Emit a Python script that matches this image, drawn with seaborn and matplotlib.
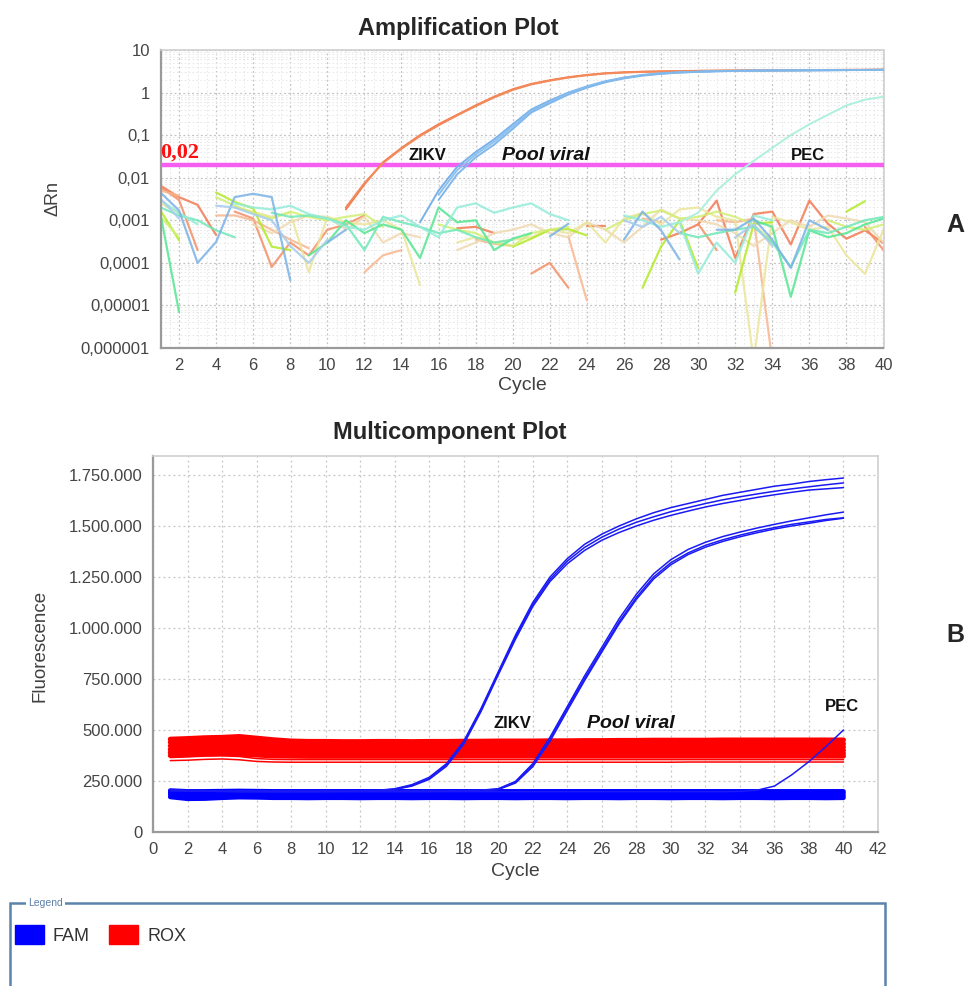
import numpy as np
import pandas as pd
import matplotlib
matplotlib.use('Agg')
import matplotlib.pyplot as plt
from matplotlib.patches import Patch, Rectangle
from matplotlib.ticker import MultipleLocator, LogLocator, NullFormatter
import seaborn as sns

nan = np.nan

# =============================================================================
# DATA - Amplification plot (delta Rn, log scale), cycles 1..40
# =============================================================================
zikv_drn_1 = [1.8e-3, 7e-3, 2.3e-2, 5e-2, 1e-1, 1.8e-1, 3e-1, 5e-1, 8e-1, 1.2,
              1.6, 1.95, 2.3, 2.6, 2.85, 3.0, 3.1, 3.15, 3.2, 3.25,
              3.28, 3.3, 3.32, 3.34, 3.36, 3.38, 3.4, 3.42, 3.43, 3.45]      # from cycle 11
zikv_drn_2 = [2e-3, 7.5e-3, 2.2e-2, 4.8e-2, 9.5e-2, 1.7e-1, 2.9e-1, 4.8e-1, 7.7e-1, 1.15,
              1.55, 1.9, 2.25, 2.55, 2.8, 2.95, 3.05, 3.12, 3.18, 3.22,
              3.26, 3.28, 3.3, 3.32, 3.34, 3.36, 3.38, 3.4, 3.42, 3.44]      # from cycle 11
pool_drn_1 = [9e-4, 5e-3, 1.8e-2, 4e-2, 8e-2, 1.8e-1, 4e-1, 6.5e-1, 1.0, 1.4,
              1.85, 2.25, 2.6, 2.85, 3.0, 3.1, 3.2, 3.25, 3.28, 3.3,
              3.32, 3.34, 3.36, 3.38, 3.4, 3.42]                              # from cycle 15
pool_drn_2 = [4e-3, 1.5e-2, 3.5e-2, 7e-2, 1.6e-1, 3.7e-1, 6e-1, 9.5e-1, 1.35, 1.8,
              2.2, 2.55, 2.8, 2.97, 3.08, 3.18, 3.23, 3.27, 3.3, 3.32,
              3.34, 3.36, 3.38, 3.4, 3.42]                                    # from cycle 16
pool_drn_3 = [3e-3, 1.2e-2, 3e-2, 6e-2, 1.4e-1, 3.4e-1, 5.6e-1, 9e-1, 1.3, 1.75,
              2.15, 2.5, 2.75, 2.95, 3.06, 3.16, 3.22, 3.26, 3.29, 3.31,
              3.33, 3.35, 3.37, 3.39, 3.41]                                   # from cycle 16
pec_drn = [9e-4, 1.5e-3, 5e-3, 1.2e-2, 2.5e-2, 5e-2, 1e-1, 1.8e-1, 3e-1, 5e-1,
           6.8e-1, 8e-1]                                                     # from cycle 29

# background (non amplifying) wells, cycles 1..40, nan = negative / not drawn
noise_orange_a = [6.5e-3, 3.5e-3, 2.3e-3, 4.5e-4, nan, nan, nan, nan, nan, nan,
                  nan, nan, nan, nan, nan, nan, 6.5e-4, 7e-4, 5e-4, nan,
                  nan, nan, nan, 7.5e-4, 7.5e-4, nan, nan, 3.5e-4, 5e-4, 8e-4,
                  2.9e-3, 1.3e-4, 1.4e-3, 1.6e-3, 2.7e-4, 2.9e-3, 8.3e-4, 3.7e-4, 5.8e-4, 2.9e-4]
noise_orange_b = [6e-3, 3e-3, 2e-4, nan, 1.6e-3, 1.1e-3, 8e-5, 3e-4, 1.5e-4, 6e-4,
                  8e-4, 1.3e-3, nan, nan, nan, nan, nan, nan, nan, nan,
                  5.6e-5, 1e-4, 2.6e-5, nan, nan, nan, nan, nan, nan, 8.3e-4,
                  2e-4, nan, nan, nan, nan, nan, nan, nan, 7e-4, 2e-4]
noise_lorange = [5e-3, 3.8e-3, nan, 1.3e-3, 1.3e-3, 1e-3, 6e-4, 3.5e-4, 2.2e-4, nan,
                 nan, 6e-5, 1.5e-4, 2e-4, nan, nan, nan, 3.5e-4, 2.8e-4, 2.5e-4,
                 nan, nan, 4.2e-4, 1.3e-5, nan, nan, 1.1e-3, 9e-4, nan, nan,
                 1e-3, 9e-4, 1.1e-3, 5e-7, nan, nan, nan, nan, nan, 5e-4]
noise_pale = [nan, nan, nan, nan, nan, 8e-4, 5e-4, 9e-4, 1.3e-3, 1.2e-3,
              6e-4, 1.2e-3, 3e-4, 5e-4, 4e-4, nan, 2e-4, 3e-4, 5e-4, 6e-4,
              8e-4, 5e-4, 4e-4, 9e-4, 6e-4, 3e-4, 7e-4, 1.8e-3, 1.1e-3, 1e-3,
              8e-4, 5e-4, 2.5e-4, 5e-4, 1e-3, 7e-4, 1.3e-3, 1.1e-3, 9e-4, 3e-4]
noise_yellow = [2.5e-3, 1.5e-3, nan, nan, 2e-3, 1.6e-3, 1.2e-3, 1.5e-3, 6e-5, 1.2e-3,
                9e-4, 8e-4, 1e-3, 6e-4, 3e-5, nan, 3e-4, 4e-4, 3e-4, 3.5e-4,
                4e-4, 6e-4, 5e-4, 9e-4, 3e-4, 1.1e-3, 1.5e-3, 8e-4, 1.8e-3, 2e-3,
                1.2e-3, 1e-3, 5e-7, 1.2e-3, 9e-4, 6e-4, 7e-4, 1.5e-4, 5.5e-5, 6e-4]
noise_lime = [1.7e-3, 3.4e-4, nan, 4.5e-3, 2.7e-3, 1.9e-3, 2.4e-4, 2e-4, nan, nan,
              nan, nan, nan, nan, nan, nan, nan, nan, nan, 2.4e-4,
              3.7e-4, 6e-4, 6.2e-4, 4.4e-4, nan, nan, 2.6e-5, 2.4e-4, 1e-3, 7.6e-5,
              nan, 2e-5, 8.3e-4, 9e-4, nan, nan, nan, 1.6e-3, 2.8e-3, nan]
noise_yg = [1.2e-3, 4e-4, nan, 3.5e-3, 2.2e-3, 1.5e-3, 1.1e-3, 1.6e-3, 1.2e-3, 1e-3,
            1.2e-3, 1.4e-3, 7e-4, nan, nan, 8e-4, 6e-4, 5e-4, 3e-4, 2.5e-4,
            5e-4, 6e-4, 7e-4, nan, 6e-4, 1e-3, 1.4e-3, 1.7e-3, 1.1e-3, 1.2e-3,
            1.6e-3, 1.2e-3, 8e-4, 3e-4, nan, nan, 1e-3, 7e-4, 6e-4, 8e-4]
noise_green = [1.4e-3, 7e-6, nan, nan, nan, nan, nan, nan, 1.5e-4, 3e-4,
               1e-3, 5e-4, 8e-4, 6e-4, 1.3e-4, 2e-3, 9e-4, 1e-3, 2e-4, 3.7e-4,
               5e-4, nan, nan, nan, nan, nan, nan, nan, nan, nan,
               nan, nan, 1e-3, 7e-4, 1.6e-5, 5.8e-4, 4e-4, 5e-4, 8e-4, 1.1e-3]
noise_teal = [2e-3, 1.3e-3, 1e-3, 5.8e-4, 4e-4, nan, 1.5e-3, 1.2e-3, 1.3e-3, 1.1e-3,
              8e-4, 2e-4, 1.2e-3, 9e-4, 7e-4, 5e-4, 6e-4, 4e-4, 3e-4, 3.5e-4,
              nan, nan, nan, nan, nan, nan, nan, nan, 5e-4, 4e-4,
              5e-4, 6e-4, 7e-4, 3e-4, 8e-5, 6e-4, 5e-4, 7e-4, 1e-3, 1.2e-3]
noise_cyan = [3e-3, 1.5e-3, 8e-4, nan, 2.5e-3, 2e-3, 1.8e-3, 2.2e-3, 1.4e-3, 1.1e-3,
              7e-4, 6e-4, 1e-3, 1.3e-3, 7e-4, 4e-4, 2e-3, 2.5e-3, 1.5e-3, 2e-3,
              2.5e-3, 1.4e-3, 1e-3, nan, nan, 1.3e-3, 1e-3, 7e-4, 9e-4, 5.6e-5,
              3e-4, 1e-4, 1.3e-3, 1e-3, nan, nan, nan, nan, nan, nan]
noise_blue = [4.5e-3, 1.7e-3, 1e-4, 3.1e-4, 3.5e-3, 4.2e-3, 3.5e-3, 3.9e-5, nan, 3e-4,
              6e-4, nan, nan, nan, nan, nan, nan, nan, nan, nan,
              nan, 4.2e-4, 8.3e-4, nan, nan, 3.5e-4, 1.6e-3, 5.8e-4, 1.2e-4, nan,
              6e-4, 6e-4, 1.1e-3, 3.5e-4, 7.6e-5, 1e-3, 6e-4, nan, nan, nan]
noise_sky = [3.2e-3, 1.1e-3, nan, 2.2e-3, 2e-3, 1.4e-3, 1e-3, 2.5e-4, 1e-4, 3.5e-4,
             nan, nan, nan, nan, nan, nan, nan, nan, nan, nan,
             nan, nan, nan, nan, nan, 1e-3, 7e-4, 1.2e-3, 5e-4, nan,
             nan, 4e-4, 8e-4, 2.5e-4, nan, nan, nan, nan, nan, 9e-4]

threshold = 0.02
amp_yticks = [1e-6, 1e-5, 1e-4, 1e-3, 1e-2, 1e-1, 1, 10]
amp_yticklabels = ['0,000001', '0,00001', '0,0001', '0,001', '0,01', '0,1', '1', '10']

# =============================================================================
# DATA - Multicomponent plot (raw fluorescence), cycles 1..40
# =============================================================================
zikv_fam_1 = [205e3, 203e3, 202e3, 201e3, 200e3, 200e3, 200e3, 200e3, 200e3, 200e3,
              201e3, 202e3, 204e3, 212e3, 232e3, 268e3, 335e3, 445e3, 605e3, 785e3,
              965e3, 1125e3, 1250e3, 1340e3, 1410e3, 1460e3, 1500e3, 1535e3, 1565e3, 1590e3,
              1610e3, 1630e3, 1650e3, 1665e3, 1680e3, 1695e3, 1705e3, 1718e3, 1727e3, 1735e3]
zikv_fam_2 = [204e3, 202e3, 201e3, 200e3, 199e3, 199e3, 199e3, 199e3, 199e3, 199e3,
              200e3, 201e3, 203e3, 210e3, 228e3, 262e3, 330e3, 438e3, 598e3, 778e3,
              955e3, 1115e3, 1238e3, 1328e3, 1395e3, 1445e3, 1485e3, 1518e3, 1545e3, 1570e3,
              1590e3, 1610e3, 1628e3, 1643e3, 1657e3, 1670e3, 1682e3, 1692e3, 1702e3, 1711e3]
zikv_fam_3 = [203e3, 201e3, 200e3, 199e3, 198e3, 198e3, 198e3, 198e3, 198e3, 198e3,
              199e3, 200e3, 202e3, 208e3, 225e3, 258e3, 322e3, 430e3, 590e3, 770e3,
              945e3, 1105e3, 1228e3, 1315e3, 1380e3, 1430e3, 1468e3, 1500e3, 1528e3, 1552e3,
              1573e3, 1593e3, 1610e3, 1625e3, 1640e3, 1653e3, 1665e3, 1676e3, 1682e3, 1688e3]
pool_fam_1 = [206e3, 204e3, 203e3, 202e3, 201e3, 201e3, 201e3, 201e3, 201e3, 201e3,
              201e3, 201e3, 201e3, 201e3, 201e3, 201e3, 202e3, 203e3, 205e3, 212e3,
              248e3, 335e3, 465e3, 615e3, 765e3, 905e3, 1045e3, 1165e3, 1265e3, 1335e3,
              1385e3, 1420e3, 1448e3, 1470e3, 1490e3, 1508e3, 1525e3, 1540e3, 1555e3, 1568e3]
pool_fam_2 = [205e3, 203e3, 202e3, 201e3, 200e3, 200e3, 200e3, 200e3, 200e3, 200e3,
              200e3, 200e3, 200e3, 200e3, 200e3, 200e3, 201e3, 202e3, 204e3, 210e3,
              245e3, 328e3, 455e3, 605e3, 752e3, 892e3, 1030e3, 1150e3, 1250e3, 1320e3,
              1368e3, 1405e3, 1432e3, 1455e3, 1475e3, 1492e3, 1508e3, 1520e3, 1532e3, 1540e3]
pool_fam_3 = [204e3, 202e3, 201e3, 200e3, 199e3, 199e3, 199e3, 199e3, 199e3, 199e3,
              199e3, 199e3, 199e3, 199e3, 199e3, 199e3, 200e3, 201e3, 203e3, 208e3,
              240e3, 320e3, 445e3, 595e3, 742e3, 882e3, 1020e3, 1140e3, 1240e3, 1310e3,
              1360e3, 1396e3, 1424e3, 1447e3, 1467e3, 1485e3, 1500e3, 1513e3, 1527e3, 1538e3]
pec_fam = [203e3, 201e3, 200e3, 199e3, 198e3, 198e3, 198e3, 198e3, 198e3, 198e3,
           198e3, 198e3, 198e3, 198e3, 198e3, 198e3, 198e3, 198e3, 198e3, 198e3,
           198e3, 198e3, 198e3, 198e3, 198e3, 198e3, 198e3, 198e3, 198e3, 198e3,
           198e3, 198e3, 198e3, 199e3, 205e3, 225e3, 280e3, 345e3, 420e3, 500e3]
fam_base_1 = [172e3, 163e3, 164e3, 168e3, 171e3, 170e3, 168e3, 168e3, 167e3, 168e3,
              168e3, 167e3, 168e3, 168e3, 167e3, 168e3, 168e3, 167e3, 168e3, 168e3,
              167e3, 168e3, 168e3, 167e3, 168e3, 168e3, 167e3, 168e3, 168e3, 167e3,
              168e3, 168e3, 167e3, 168e3, 168e3, 167e3, 168e3, 168e3, 167e3, 168e3]
fam_base_2 = [183e3, 176e3, 177e3, 179e3, 181e3, 180e3, 178e3, 178e3, 178e3, 178e3,
              178e3, 178e3, 178e3, 179e3, 178e3, 178e3, 178e3, 178e3, 179e3, 178e3,
              178e3, 178e3, 178e3, 179e3, 178e3, 178e3, 178e3, 178e3, 179e3, 178e3,
              178e3, 178e3, 178e3, 179e3, 178e3, 178e3, 178e3, 178e3, 179e3, 178e3]
fam_base_3 = [193e3, 188e3, 189e3, 190e3, 191e3, 190e3, 189e3, 189e3, 189e3, 189e3,
              189e3, 189e3, 189e3, 188e3, 189e3, 189e3, 189e3, 189e3, 188e3, 189e3,
              189e3, 189e3, 189e3, 188e3, 189e3, 189e3, 189e3, 189e3, 188e3, 189e3,
              189e3, 189e3, 189e3, 188e3, 189e3, 189e3, 189e3, 189e3, 188e3, 189e3]
fam_base_4 = [203e3, 199e3, 199e3, 200e3, 201e3, 200e3, 199e3, 199e3, 199e3, 199e3,
              199e3, 199e3, 199e3, 199e3, 199e3, 199e3, 199e3, 199e3, 199e3, 199e3,
              199e3, 199e3, 199e3, 199e3, 199e3, 199e3, 199e3, 199e3, 199e3, 199e3,
              199e3, 199e3, 199e3, 199e3, 199e3, 199e3, 199e3, 199e3, 199e3, 199e3]
rox_1 = [455e3, 458e3, 462e3, 464e3, 468e3, 460e3, 452e3, 446e3, 444e3, 444e3,
         443e3, 443e3, 444e3, 444e3, 443e3, 444e3, 444e3, 445e3, 445e3, 446e3,
         446e3, 446e3, 447e3, 447e3, 448e3, 448e3, 449e3, 449e3, 450e3, 450e3,
         450e3, 450e3, 451e3, 451e3, 451e3, 451e3, 451e3, 451e3, 451e3, 451e3]
rox_2 = [440e3, 444e3, 446e3, 448e3, 452e3, 446e3, 438e3, 432e3, 430e3, 430e3,
         430e3, 430e3, 430e3, 431e3, 430e3, 430e3, 431e3, 431e3, 431e3, 431e3,
         431e3, 432e3, 432e3, 432e3, 432e3, 432e3, 433e3, 433e3, 433e3, 433e3,
         433e3, 433e3, 433e3, 433e3, 433e3, 433e3, 433e3, 433e3, 433e3, 433e3]
rox_3 = [422e3, 428e3, 430e3, 432e3, 434e3, 428e3, 420e3, 416e3, 415e3, 415e3,
         415e3, 415e3, 415e3, 415e3, 415e3, 415e3, 416e3, 416e3, 416e3, 416e3,
         416e3, 416e3, 416e3, 416e3, 416e3, 417e3, 417e3, 417e3, 417e3, 417e3,
         417e3, 417e3, 417e3, 417e3, 417e3, 417e3, 417e3, 417e3, 417e3, 417e3]
rox_4 = [405e3, 412e3, 414e3, 415e3, 416e3, 410e3, 403e3, 400e3, 399e3, 399e3,
         399e3, 399e3, 399e3, 399e3, 399e3, 400e3, 400e3, 400e3, 400e3, 400e3,
         400e3, 400e3, 400e3, 400e3, 400e3, 400e3, 400e3, 401e3, 401e3, 401e3,
         401e3, 401e3, 401e3, 401e3, 401e3, 401e3, 401e3, 401e3, 401e3, 401e3]
rox_5 = [390e3, 396e3, 398e3, 399e3, 400e3, 393e3, 387e3, 385e3, 384e3, 384e3,
         384e3, 384e3, 384e3, 384e3, 384e3, 384e3, 385e3, 385e3, 385e3, 385e3,
         385e3, 385e3, 385e3, 385e3, 385e3, 385e3, 385e3, 385e3, 385e3, 386e3,
         386e3, 386e3, 386e3, 386e3, 386e3, 386e3, 386e3, 386e3, 386e3, 386e3]
rox_6 = [375e3, 380e3, 382e3, 383e3, 382e3, 377e3, 373e3, 372e3, 371e3, 371e3,
         371e3, 371e3, 371e3, 371e3, 371e3, 371e3, 371e3, 372e3, 372e3, 372e3,
         372e3, 372e3, 372e3, 372e3, 372e3, 372e3, 372e3, 372e3, 372e3, 372e3,
         372e3, 372e3, 372e3, 372e3, 372e3, 372e3, 372e3, 372e3, 372e3, 372e3]
rox_7 = [365e3, 368e3, 372e3, 374e3, 370e3, 360e3, 356e3, 355e3, 355e3, 355e3,
         355e3, 355e3, 355e3, 355e3, 355e3, 355e3, 355e3, 355e3, 355e3, 355e3,
         355e3, 355e3, 355e3, 355e3, 355e3, 355e3, 355e3, 355e3, 355e3, 355e3,
         355e3, 355e3, 355e3, 355e3, 355e3, 355e3, 355e3, 355e3, 355e3, 355e3]
rox_8 = [350e3, 352e3, 356e3, 358e3, 354e3, 346e3, 343e3, 342e3, 342e3, 342e3,
         342e3, 342e3, 342e3, 342e3, 342e3, 342e3, 342e3, 342e3, 342e3, 342e3,
         342e3, 342e3, 342e3, 342e3, 342e3, 342e3, 342e3, 342e3, 342e3, 342e3,
         343e3, 343e3, 343e3, 343e3, 343e3, 343e3, 343e3, 343e3, 343e3, 343e3]

mc_yticks = [0, 250e3, 500e3, 750e3, 1000e3, 1250e3, 1500e3, 1750e3]
mc_yticklabels = ['0', '250.000', '500.000', '750.000', '1.000.000', '1.250.000',
                  '1.500.000', '1.750.000']

# =============================================================================
# HELPERS
# =============================================================================
def long_form(series, starts):
    # one row per point, a new segment id after every gap (nan)
    rows = []
    for name, values in series.items():
        seg, gap = 0, True
        for i, v in enumerate(values):
            if np.isnan(v):
                gap = True
                continue
            if gap:
                seg += 1
                gap = False
            rows.append({'well': name, 'seg': f'{name}-{seg}',
                         'cycle': starts.get(name, 1) + i, 'value': v})
    return pd.DataFrame(rows)


def draw(ax, series, colors, starts=None, lw=1.5, alpha=1.0, zorder=2):
    df = long_form(series, starts or {})
    sns.lineplot(data=df, x='cycle', y='value', hue='well', units='seg',
                 estimator=None, sort=False, palette=colors, lw=lw, alpha=alpha,
                 legend=False, ax=ax, zorder=zorder)


def style_box(ax):
    for side in ['left', 'bottom']:
        ax.spines[side].set_color('#9a9a9a')
        ax.spines[side].set_linewidth(1.6)
    for side in ['top', 'right']:
        ax.spines[side].set_color('#cfcfcf')
        ax.spines[side].set_linewidth(1.2)
    ax.tick_params(axis='both', which='major', direction='out', length=4,
                   width=1.2, color='#9a9a9a', labelcolor='#454545', labelsize=12)
    ax.set_xlabel('')
    ax.set_ylabel('')


# =============================================================================
# FIGURE
# =============================================================================
sns.set_theme(style='white')
plt.rcParams['font.family'] = ['Liberation Sans', 'DejaVu Sans']

fig = plt.figure(figsize=(9.69, 9.86), dpi=100)

# ---------- A : Amplification Plot ----------
ax1 = fig.add_axes([160.5 / 969, 1 - 348 / 986, 723 / 969, 298 / 986])
ax1.set_yscale('log')

noise = {'n1': noise_orange_a, 'n2': noise_orange_b, 'n3': noise_lorange,
         'n4': noise_pale, 'n5': noise_yellow, 'n6': noise_lime, 'n7': noise_yg,
         'n8': noise_green, 'n9': noise_teal, 'n10': noise_cyan,
         'n11': noise_blue, 'n12': noise_sky}
noise_colors = {'n1': '#f27a52', 'n2': '#f39068', 'n3': '#f7b690', 'n4': '#efd9b0',
                'n5': '#ebe69c', 'n6': '#b2ea26', 'n7': '#d3ef74', 'n8': '#55e692',
                'n9': '#6ee8b8', 'n10': '#93ecd9', 'n11': '#7cb2e6', 'n12': '#a6cbee'}
draw(ax1, noise, noise_colors, lw=1.6, alpha=0.85)

ax1.axhline(threshold, color='#f55ef0', lw=3.2, zorder=3)

amp = {'zikv1': zikv_drn_1, 'zikv2': zikv_drn_2,
       'pool1': pool_drn_1, 'pool2': pool_drn_2, 'pool3': pool_drn_3, 'pec': pec_drn}
amp_starts = {'zikv1': 11, 'zikv2': 11, 'pool1': 15, 'pool2': 16, 'pool3': 16, 'pec': 29}
amp_colors = {'zikv1': '#f47a48', 'zikv2': '#f28a5c', 'pool1': '#78b2ea',
              'pool2': '#8ec0ee', 'pool3': '#80b8ec', 'pec': '#aef0de'}
draw(ax1, amp, amp_colors, starts=amp_starts, lw=1.4, zorder=4)

ax1.set_xlim(1, 40)
ax1.set_ylim(1e-6, 10)
ax1.set_xticks(range(2, 41, 2))
ax1.xaxis.set_minor_locator(MultipleLocator(0.5))
ax1.set_yticks(amp_yticks)
ax1.set_yticklabels(amp_yticklabels)
ax1.yaxis.set_minor_locator(LogLocator(base=10, subs=np.arange(2, 10)))
ax1.yaxis.set_minor_formatter(NullFormatter())
ax1.grid(which='major', ls=(0, (1.5, 2)), color='#c2c2c2', lw=0.9)
ax1.grid(which='minor', ls=(0, (1.5, 2.5)), color='#e6e6e6', lw=0.7)
style_box(ax1)
ax1.tick_params(axis='both', which='minor', length=0)

ax1.text(1.0, threshold * 1.12, '0,02', color='#ff1010', fontsize=16,
         fontweight='bold', family=['Liberation Serif', 'DejaVu Serif'],
         ha='left', va='bottom', zorder=5)
ax1.text(15.4, 0.034, 'ZIKV', fontsize=12, fontweight='bold', color='#111111',
         ha='center', va='center', zorder=5)
ax1.text(21.8, 0.034, 'Pool viral', fontsize=14, fontweight='bold', style='italic',
         color='#111111', ha='center', va='center', zorder=5)
ax1.text(35.9, 0.034, 'PEC', fontsize=12, fontweight='bold', color='#111111',
         ha='center', va='center', zorder=5)

fig.text(458 / 969, 1 - 28 / 986, 'Amplification Plot', fontsize=17,
         fontweight='bold', ha='center', va='center')
fig.text(53 / 969, 1 - 198 / 986, 'ΔRn', fontsize=13, rotation=90, color='#404040',
         ha='center', va='center')
fig.text(522 / 969, 1 - 385 / 986, 'Cycle', fontsize=14, color='#404040',
         ha='center', va='center')
fig.text(955 / 969, 1 - 225 / 986, 'A', fontsize=18, fontweight='bold',
         ha='center', va='center')

# ---------- B : Multicomponent Plot ----------
ax2 = fig.add_axes([153 / 969, 1 - 832 / 986, 725 / 969, 376 / 986])

rox = {'r1': rox_1, 'r2': rox_2, 'r3': rox_3, 'r4': rox_4, 'r5': rox_5, 'r6': rox_6}
draw(ax2, rox, {k: '#ff0000' for k in rox}, lw=3.6, zorder=2)
draw(ax2, {'r7': rox_7, 'r8': rox_8}, {'r7': '#ff0000', 'r8': '#ff0000'},
     lw=1.1, zorder=2)

fam_base = {'f1': fam_base_1, 'f2': fam_base_2, 'f3': fam_base_3, 'f4': fam_base_4}
draw(ax2, fam_base, {k: '#0000ff' for k in fam_base}, lw=3.4, zorder=3)

fam_amp = {'z1': zikv_fam_1, 'z2': zikv_fam_2, 'z3': zikv_fam_3,
           'p1': pool_fam_1, 'p2': pool_fam_2, 'p3': pool_fam_3, 'pec': pec_fam}
draw(ax2, fam_amp, {k: '#1a1af5' for k in fam_amp}, lw=1.1, zorder=4)

ax2.set_xlim(0, 42)
ax2.set_ylim(0, 1843e3)
ax2.set_xticks(range(0, 43, 2))
ax2.set_yticks(mc_yticks)
ax2.set_yticklabels(mc_yticklabels)
ax2.grid(which='major', ls=(0, (1.5, 2.5)), color='#c4c4c4', lw=0.9)
style_box(ax2)

ax2.text(20.8, 534e3, 'ZIKV', fontsize=12, fontweight='bold', color='#111111',
         ha='center', va='center', zorder=5)
ax2.text(27.7, 534e3, 'Pool viral', fontsize=14, fontweight='bold', style='italic',
         color='#111111', ha='center', va='center', zorder=5)
ax2.text(39.9, 613e3, 'PEC', fontsize=12, fontweight='bold', color='#111111',
         ha='center', va='center', zorder=5)

fig.text(450 / 969, 1 - 432 / 986, 'Multicomponent Plot', fontsize=17,
         fontweight='bold', ha='center', va='center')
fig.text(40 / 969, 1 - 646 / 986, 'Fluorescence', fontsize=13.5, rotation=90,
         color='#404040', ha='center', va='center')
fig.text(515 / 969, 1 - 871 / 986, 'Cycle', fontsize=14, color='#404040',
         ha='center', va='center')
fig.text(955 / 969, 1 - 635 / 986, 'B', fontsize=18, fontweight='bold',
         ha='center', va='center')

# ---------- Legend box ----------
fig.add_artist(Rectangle((10 / 969, -0.05), 875 / 969, 0.05 + 1 - 903 / 986,
                         transform=fig.transFigure, fill=False,
                         edgecolor='#5b84ad', lw=1.8))
fig.text(28 / 969, 1 - 903 / 986, 'Legend', fontsize=7.5, color='#5b7fa8',
         ha='left', va='center',
         bbox=dict(facecolor='white', edgecolor='none', pad=1.5))
fig.legend(handles=[Patch(facecolor='#0000ff', edgecolor='#0000ff', label='FAM'),
                    Patch(facecolor='#ff0000', edgecolor='#ff0000', label='ROX')],
           loc='upper left', bbox_to_anchor=(2 / 969, 1 - 912 / 986),
           ncol=2, frameon=False, fontsize=13, handlelength=1.6, handleheight=1.3,
           handletextpad=0.5, columnspacing=1.1, borderpad=0.2,
           labelcolor='#333333')

fig.savefig('out.png', dpi=100)
